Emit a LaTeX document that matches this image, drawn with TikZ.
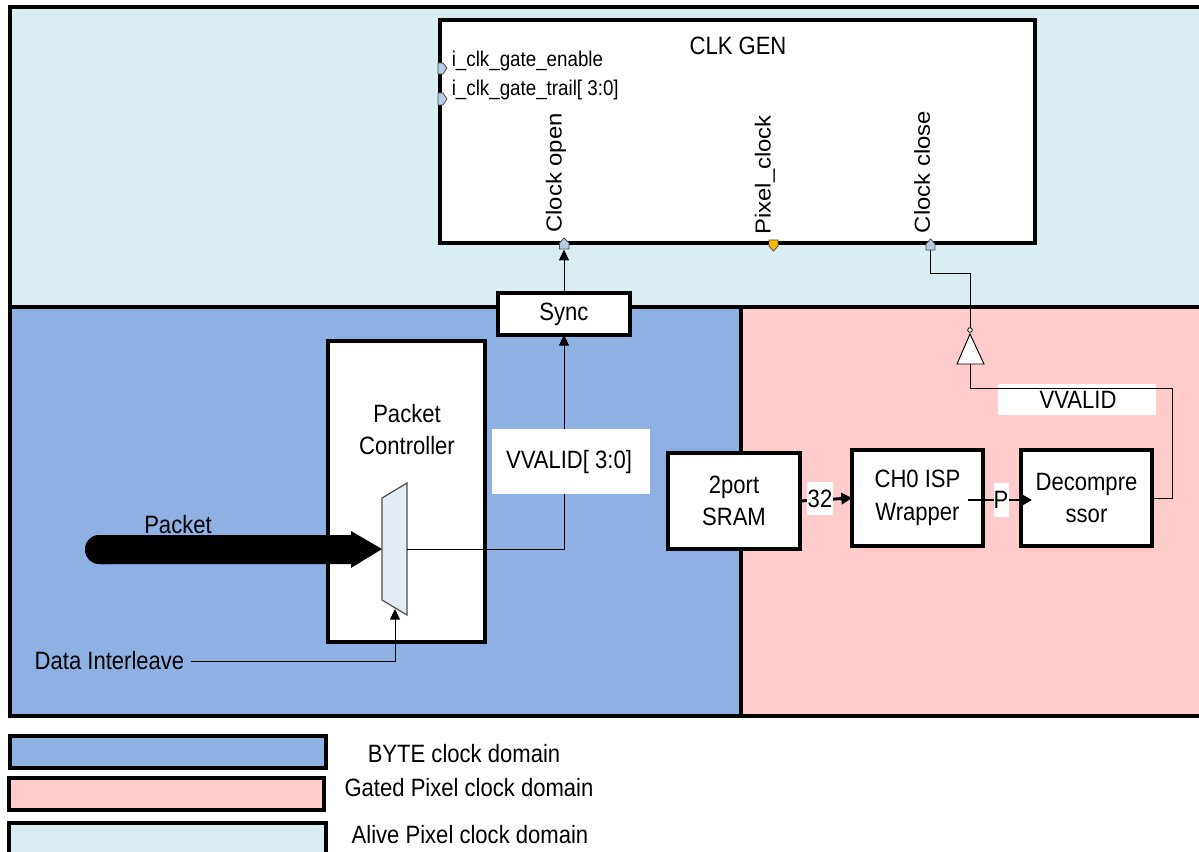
\documentclass[tikz,border=0pt]{standalone}
\usepackage{fontspec}
\setmainfont[FakeStretch=0.88]{Liberation Sans}
\newfontfamily\widef[FakeStretch=1.1]{Liberation Sans}
\usetikzlibrary{arrows.meta,calc}
\definecolor{alivec}{HTML}{DAEDF3}
\definecolor{bytec}{HTML}{8EB1E3}
\definecolor{gatedc}{HTML}{FFCBCB}
\definecolor{portc}{HTML}{B8CCE4}
\definecolor{muxc}{HTML}{E6ECF5}
\def\pw{0.75pt}
\tikzset{
  panel/.style={draw=black,line width=2.7pt,inner sep=0pt,outer sep=0pt,anchor=north west},
  blockb/.style={draw=black,fill=white,line width=2.9pt,inner sep=0pt,outer sep=0pt,align=center,font=\fontsize{18.8}{24.5}\selectfont},
  lab/.style={inner sep=0pt,font=\fontsize{18.8}{22}\selectfont},
  smalllab/.style={inner sep=0pt,anchor=west,font=\fontsize{16}{18}\selectfont},
  vlab/.style={inner sep=0pt,rotate=90,font=\widef\fontsize{16.3}{18}\selectfont},
  whitebox/.style={fill=white,inner sep=0pt,outer sep=0pt},
  wire/.style={draw=black,line width=0.75pt},
  sig/.style={wire,-{Triangle[length=8pt,width=7.5pt]}},
  bus/.style={draw=black,line width=2.2pt,-{Triangle[length=8pt,width=8.5pt]}},
  port/.style={draw=black!70,line width=0.6pt,fill=portc},
  jn/.style={inner sep=0pt,minimum size=0pt,outer sep=0pt}
}
\begin{document}
\begin{tikzpicture}[x=0.75pt,y=-0.75pt]
\useasboundingbox (0,0) rectangle (1199,852);
\clip (0,0) rectangle (1199,852);
% domains
\node[panel,fill=alivec,minimum width=1210*\pw,minimum height=300*\pw] (alive) at (10,7) {};
\node[panel,fill=bytec,minimum width=731*\pw,minimum height=409*\pw] (byte) at (10,307) {};
\node[panel,fill=gatedc,minimum width=480*\pw,minimum height=409*\pw] (gated) at (741,307) {};
% legend
\node[panel,fill=bytec,minimum width=316*\pw,minimum height=32*\pw] (lega) at (10,736) {};
\node[panel,fill=gatedc,minimum width=315*\pw,minimum height=32*\pw] (legb) at (9,778) {};
\node[panel,fill=alivec,minimum width=317*\pw,minimum height=40*\pw] (legc) at (9,823) {};
\node[lab] (lega-t) at (464,754) {BYTE clock domain};
\node[lab] (legb-t) at (469,788) {Gated Pixel clock domain};
\node[lab] (legc-t) at (470,835) {Alive Pixel clock domain};
% clk gen
\node[blockb,minimum width=595*\pw,minimum height=223*\pw] (clk) at (737.5,131.5) {};
\node[lab] (clk-t) at (738,46) {CLK GEN};
\node[smalllab] (en) at (451.5,61) {i\_clk\_gate\_enable};
\node[smalllab] (tr) at (451.5,90) {i\_clk\_gate\_trail[ 3:0]};
\node[vlab] (co-t) at (556,173) {Clock open};
\node[vlab] (pc-t) at (765,175) {Pixel\_clock};
\node[vlab] (cc-t) at (922,172) {Clock close};
% ports
\draw[port] (438,63) -- (443,63) -- (447,68) -- (443,74) -- (438,74) -- cycle;
\draw[port] (438,93) -- (443,93) -- (447,99) -- (443,105) -- (438,105) -- cycle;
\draw[port] (559.5,249) -- (559.5,243) -- (564,238) -- (569,243) -- (569,249) -- cycle;
\draw[draw=black!70,line width=0.6pt,fill=orange!55!yellow,line join=miter] (769,240) -- (778,240) -- (778,246) -- (773.5,251) -- (769,246) -- cycle;
\draw[port] (926,250) -- (926,244) -- (930.5,239) -- (935,244) -- (935,250) -- cycle;
\node[jn] (popen) at (564,249) {};
\node[jn] (pclose) at (930,250) {};
% blocks
\node[blockb,minimum width=132*\pw,minimum height=42*\pw] (sync) at (564,314) {\raisebox{-1.5pt}{Sync}};
\node[blockb,minimum width=157*\pw,minimum height=301*\pw] (pkt) at (406.5,491.5) {};
\node[lab,align=center] (pkt-t) at (407,430) {Packet\\[2pt]Controller};
\node[blockb,minimum width=132*\pw,minimum height=96*\pw] (sram) at (734,501) {2port\\SRAM};
\node[blockb,minimum width=131*\pw,minimum height=96*\pw] (isp) at (917.5,498) {CH0 ISP\\Wrapper};
\node[blockb,minimum width=131*\pw,minimum height=96*\pw] (dec) at (1086.5,498) {Decompre\\ssor};
% mux
\draw[draw=black!70,line width=0.9pt,fill=muxc] (382,498) -- (407,483) -- (407,615) -- (382,600) -- cycle;
\node[jn] (muxin) at (382,549) {};
\node[jn] (muxout) at (407,549) {};
\node[jn] (muxsel) at (395,609) {};
% packet
\node[lab] (pk-t) at (178,525) {Packet};
\fill[black,rounded corners=10.5pt] (85,535) rectangle (125,564);
\fill[black] (100,535) -- (351,535) -- (351,531) -- (382,549) -- (351,568) -- (351,564) -- (100,564) -- cycle;
% data interleave
\node[lab] (di) at (109.5,661) {Data Interleave};
\draw[sig] (di.east) ++(6,0) -- (395,661) -- (muxsel);
% vvalid main
\draw[sig] (muxout) -- (564,549) -- (sync.south);
\node[whitebox,minimum width=158*\pw,minimum height=65*\pw] (vv) at (571,461.5) {};
\node[lab] (vv-t) at (569,462) {VVALID[ 3:0]};
\draw[sig,shorten >=0.5pt] (sync.north) -- (popen);
% gated path
\node[jn] (inv-in) at (970,364) {};
\node[jn] (inv-out) at (970,330) {};
\draw[wire] (pclose) -- (930,274) -- (970,274) -- (inv-out);
\node[whitebox,minimum width=158*\pw,minimum height=31*\pw] (vv2) at (1077,399.5) {};
\node[lab] (vv2-t) at (1078,400) {VVALID};
\draw[wire] (inv-in) -- (970,388) -- (1172,388) -- (1172,498) -- (dec.east);
\draw[draw=black,line width=0.7pt,fill=white] (957,364) -- (970,334) -- (984,364) -- cycle;
\draw[draw=black,line width=0.6pt,fill=white] (970,330) circle[radius=2.3];
% buses
\draw[bus] (sram.east) -- (isp.west);
\draw[bus] (968,500) -- (1032,500);
\node[whitebox,minimum width=26*\pw,minimum height=33*\pw,lab] (l32) at (820,498.5) {32};
\node[whitebox,minimum width=15*\pw,minimum height=34*\pw,lab] (lp) at (1001,500) {P};
\end{tikzpicture}
\end{document}
